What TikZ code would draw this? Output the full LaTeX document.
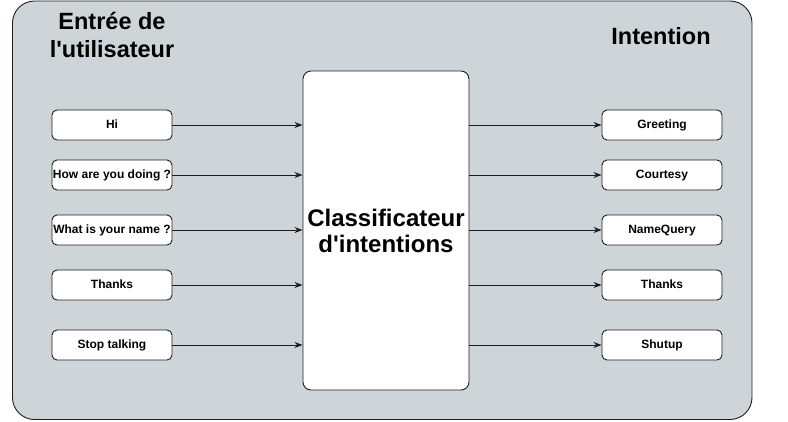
\documentclass[tikz,border=0pt]{standalone}
\usepackage{fontspec}
\setmainfont{Liberation Sans}
\usetikzlibrary{arrows.meta}
\definecolor{bg}{RGB}{206,213,217}
\definecolor{ln}{RGB}{30,30,30}
\begin{document}
\begin{tikzpicture}[x=1pt,y=-1pt,
  ibox/.style={draw=ln,line width=0.9pt,fill=white,rounded corners=5pt,minimum width=120pt,minimum height=30pt,inner sep=0pt,text height=8.6pt,text depth=2.4pt,font=\fontsize{12}{13}\selectfont\bfseries},
  arr/.style={draw=ln,line width=0.9pt,-{Stealth[length=8pt,width=6pt]}},
  title/.style={font=\fontsize{23.5}{28}\selectfont\bfseries,align=center,inner sep=0pt}]
\useasboundingbox (0,0) rectangle (788,421);
\draw[draw=ln,line width=0.9pt,fill=bg,rounded corners=22pt] (12.5,1) rectangle (752,419.5);
\node[title] (t1) at (112,35) {Entrée de\\l\textquotesingle utilisateur};
\node[title] (t2) at (661,36) {Intention};
\node[draw=ln,line width=0.9pt,fill=white,rounded corners=8pt,minimum width=166pt,minimum height=319pt,inner sep=0pt,
  font=\fontsize{24}{26}\selectfont\bfseries,align=center] (c) at (386,230.5) {Classificateur\\d\textquotesingle intentions};
\node[ibox] (i1) at (112,125) {Hi};
\node[ibox] (i2) at (112,175) {How are you doing ?};
\node[ibox] (i3) at (112,230) {What is your name ?};
\node[ibox] (i4) at (112,285) {Thanks};
\node[ibox] (i5) at (112,345) {Stop talking};
\node[ibox] (o1) at (662,125) {Greeting};
\node[ibox] (o2) at (662,175) {Courtesy};
\node[ibox] (o3) at (662,230) {NameQuery};
\node[ibox] (o4) at (662,285) {Thanks};
\node[ibox] (o5) at (662,345) {Shutup};
\foreach \k in {1,...,5}{
  \draw[arr] (i\k.east) -- (c.west |- i\k.east);
  \draw[arr] (c.east |- o\k.west) -- (o\k.west);
}
\end{tikzpicture}
\end{document}
